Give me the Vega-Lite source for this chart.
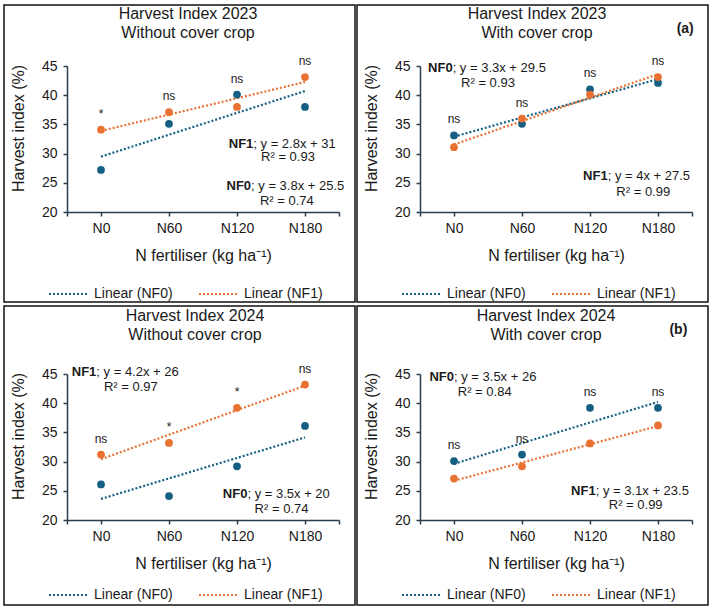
{
  "$schema": "https://vega.github.io/schema/vega-lite/v6.json",
  "padding": {"left": 3, "top": 4, "right": 0, "bottom": 0},
  "background": "white",
  "datasets": {
    "hi": [
      {"year": 2023, "cover": "without", "N": 0, "series": "NF0", "HI": 27.2, "sig": "*"},
      {"year": 2023, "cover": "without", "N": 0, "series": "NF1", "HI": 34.1, "sig": "*"},
      {"year": 2023, "cover": "without", "N": 60, "series": "NF0", "HI": 35.1, "sig": "ns"},
      {"year": 2023, "cover": "without", "N": 60, "series": "NF1", "HI": 37.1, "sig": "ns"},
      {"year": 2023, "cover": "without", "N": 120, "series": "NF0", "HI": 40.1, "sig": "ns"},
      {"year": 2023, "cover": "without", "N": 120, "series": "NF1", "HI": 38.0, "sig": "ns"},
      {"year": 2023, "cover": "without", "N": 180, "series": "NF0", "HI": 38.0, "sig": "ns"},
      {"year": 2023, "cover": "without", "N": 180, "series": "NF1", "HI": 43.1, "sig": "ns"},
      {"year": 2023, "cover": "with", "N": 0, "series": "NF0", "HI": 33.1, "sig": "ns"},
      {"year": 2023, "cover": "with", "N": 0, "series": "NF1", "HI": 31.1, "sig": "ns"},
      {"year": 2023, "cover": "with", "N": 60, "series": "NF0", "HI": 35.1, "sig": "ns"},
      {"year": 2023, "cover": "with", "N": 60, "series": "NF1", "HI": 36.0, "sig": "ns"},
      {"year": 2023, "cover": "with", "N": 120, "series": "NF0", "HI": 41.0, "sig": "ns"},
      {"year": 2023, "cover": "with", "N": 120, "series": "NF1", "HI": 40.1, "sig": "ns"},
      {"year": 2023, "cover": "with", "N": 180, "series": "NF0", "HI": 42.1, "sig": "ns"},
      {"year": 2023, "cover": "with", "N": 180, "series": "NF1", "HI": 43.1, "sig": "ns"},
      {"year": 2024, "cover": "without", "N": 0, "series": "NF0", "HI": 26.1, "sig": "ns"},
      {"year": 2024, "cover": "without", "N": 0, "series": "NF1", "HI": 31.2, "sig": "ns"},
      {"year": 2024, "cover": "without", "N": 60, "series": "NF0", "HI": 24.1, "sig": "*"},
      {"year": 2024, "cover": "without", "N": 60, "series": "NF1", "HI": 33.2, "sig": "*"},
      {"year": 2024, "cover": "without", "N": 120, "series": "NF0", "HI": 29.2, "sig": "*"},
      {"year": 2024, "cover": "without", "N": 120, "series": "NF1", "HI": 39.2, "sig": "*"},
      {"year": 2024, "cover": "without", "N": 180, "series": "NF0", "HI": 36.1, "sig": "ns"},
      {"year": 2024, "cover": "without", "N": 180, "series": "NF1", "HI": 43.2, "sig": "ns"},
      {"year": 2024, "cover": "with", "N": 0, "series": "NF0", "HI": 30.1, "sig": "ns"},
      {"year": 2024, "cover": "with", "N": 0, "series": "NF1", "HI": 27.1, "sig": "ns"},
      {"year": 2024, "cover": "with", "N": 60, "series": "NF0", "HI": 31.2, "sig": "ns"},
      {"year": 2024, "cover": "with", "N": 60, "series": "NF1", "HI": 29.2, "sig": "ns"},
      {"year": 2024, "cover": "with", "N": 120, "series": "NF0", "HI": 39.2, "sig": "ns"},
      {"year": 2024, "cover": "with", "N": 120, "series": "NF1", "HI": 33.1, "sig": "ns"},
      {"year": 2024, "cover": "with", "N": 180, "series": "NF0", "HI": 39.2, "sig": "ns"},
      {"year": 2024, "cover": "with", "N": 180, "series": "NF1", "HI": 36.2, "sig": "ns"}
    ]
  },
  "columns": 2,
  "align": "none",
  "spacing": {"row": 2, "column": 0},
  "resolve": {"legend": {"color": "independent"}},
  "concat": [
    {
      "width": 272,
      "height": 146,
      "title": {"text": ["Harvest Index 2023", "Without cover crop"], "dx": -15, "offset": -37},
      "data": {"name": "hi"},
      "transform": [{"filter": "datum.year == 2023 && datum.cover == 'without'"}],
      "layer": [
        {"data": {"values": [{}]},
          "mark": {"type": "rect", "fill": null, "stroke": "#111111", "strokeWidth": 1.5},
          "encoding": {"x": {"datum": -85.6}, "x2": {"datum": 224.1}, "y": {"datum": 55.45}, "y2": {"datum": 4.59}}},
        {
          "encoding": {
            "x": {"field": "N", "type": "quantitative", "scale": {"domain": [-30, 210], "nice": false, "zero": false},
              "axis": {"values": [-30, 0, 60, 120, 180, 210], "labelOverlap": false, "labelExpr": "datum.value < 0 || datum.value > 200 ? '' : 'N' + datum.value", "title": "N fertiliser (kg ha⁻¹)"}},
            "y": {"field": "HI", "type": "quantitative", "scale": {"domain": [20, 45], "nice": false, "zero": false},
              "axis": {"values": [20, 25, 30, 35, 40, 45], "labelOverlap": false, "tickCount": 6, "title": "Harvest index (%)"}}
          },
          "layer": [
            {"transform": [{"regression": "HI", "on": "N", "groupby": ["series"], "extent": [0, 180]}],
              "mark": {"type": "line", "strokeDash": [2, 2], "strokeWidth": 2.2},
              "encoding": {"color": {"field": "series", "type": "nominal", "scale": {"domain": ["NF0", "NF1"], "range": ["#156082", "#E97132"]},
                "legend": {"title": null, "labelExpr": "'Linear (' + datum.label + ')'", "orient": "none", "legendX": -19, "legendY": 207}}}},
            {"mark": {"type": "circle", "size": 60, "opacity": 1},
              "encoding": {"color": {"field": "series", "type": "nominal"}}},
            {"transform": [{"aggregate": [{"op": "max", "field": "HI", "as": "HI"}], "groupby": ["N", "sig"]}],
              "mark": {"type": "text", "baseline": "alphabetic", "dy": -12, "fontSize": 12, "color": "#1a1a1a"},
              "encoding": {"text": {"field": "sig"}}}
          ]
        },
        {"data": {"values": [{}]}, "mark": {"type": "text", "text": "NF1", "fontWeight": "bold", "align": "right"}, "encoding": {"x": {"datum": 134.4}, "y": {"datum": 31.6}}},
        {"data": {"values": [{}]}, "mark": {"type": "text", "text": "; y = 2.8x + 31", "align": "left"}, "encoding": {"x": {"datum": 134.4}, "y": {"datum": 31.6}}},
        {"data": {"values": [{}]}, "mark": {"type": "text", "text": "R² = 0.93"}, "encoding": {"x": {"datum": 165}, "y": {"datum": 29.5}}},
        {"data": {"values": [{}]}, "mark": {"type": "text", "text": "NF0", "fontWeight": "bold", "align": "right"}, "encoding": {"x": {"datum": 132.4}, "y": {"datum": 24.4}}},
        {"data": {"values": [{}]}, "mark": {"type": "text", "text": "; y = 3.8x + 25.5", "align": "left"}, "encoding": {"x": {"datum": 132.4}, "y": {"datum": 24.4}}},
        {"data": {"values": [{}]}, "mark": {"type": "text", "text": "R² = 0.74"}, "encoding": {"x": {"datum": 164}, "y": {"datum": 21.8}}}
      ]
    },
    {
      "width": 272,
      "height": 146,
      "title": {"text": ["Harvest Index 2023", "With cover crop"], "dx": -19, "offset": -37},
      "data": {"name": "hi"},
      "transform": [{"filter": "datum.year == 2023 && datum.cover == 'with'"}],
      "layer": [
        {"data": {"values": [{}]},
          "mark": {"type": "rect", "fill": null, "stroke": "#111111", "strokeWidth": 1.5},
          "encoding": {"x": {"datum": -85.6}, "x2": {"datum": 224.1}, "y": {"datum": 55.45}, "y2": {"datum": 4.59}}},
        {
          "encoding": {
            "x": {"field": "N", "type": "quantitative", "scale": {"domain": [-30, 210], "nice": false, "zero": false},
              "axis": {"values": [-30, 0, 60, 120, 180, 210], "labelOverlap": false, "labelExpr": "datum.value < 0 || datum.value > 200 ? '' : 'N' + datum.value", "title": "N fertiliser (kg ha⁻¹)"}},
            "y": {"field": "HI", "type": "quantitative", "scale": {"domain": [20, 45], "nice": false, "zero": false},
              "axis": {"values": [20, 25, 30, 35, 40, 45], "labelOverlap": false, "tickCount": 6, "title": "Harvest index (%)"}}
          },
          "layer": [
            {"transform": [{"regression": "HI", "on": "N", "groupby": ["series"], "extent": [0, 180]}],
              "mark": {"type": "line", "strokeDash": [2, 2], "strokeWidth": 2.2},
              "encoding": {"color": {"field": "series", "type": "nominal", "scale": {"domain": ["NF0", "NF1"], "range": ["#156082", "#E97132"]},
                "legend": {"title": null, "labelExpr": "'Linear (' + datum.label + ')'", "orient": "none", "legendX": -19, "legendY": 207}}}},
            {"mark": {"type": "circle", "size": 60, "opacity": 1},
              "encoding": {"color": {"field": "series", "type": "nominal"}}},
            {"transform": [{"aggregate": [{"op": "max", "field": "HI", "as": "HI"}], "groupby": ["N", "sig"]}],
              "mark": {"type": "text", "baseline": "alphabetic", "dy": -12, "fontSize": 12, "color": "#1a1a1a"},
              "encoding": {"text": {"field": "sig"}}}
          ]
        },
        {"data": {"values": [{}]}, "mark": {"type": "text", "text": "NF0", "fontWeight": "bold", "align": "right"}, "encoding": {"x": {"datum": -1.2}, "y": {"datum": 44.7}}},
        {"data": {"values": [{}]}, "mark": {"type": "text", "text": "; y = 3.3x + 29.5", "align": "left"}, "encoding": {"x": {"datum": -1.2}, "y": {"datum": 44.7}}},
        {"data": {"values": [{}]}, "mark": {"type": "text", "text": "R² = 0.93"}, "encoding": {"x": {"datum": 30}, "y": {"datum": 42.1}}},
        {"data": {"values": [{}]}, "mark": {"type": "text", "text": "NF1", "fontWeight": "bold", "align": "right"}, "encoding": {"x": {"datum": 135.6}, "y": {"datum": 26.2}}},
        {"data": {"values": [{}]}, "mark": {"type": "text", "text": "; y = 4x + 27.5", "align": "left"}, "encoding": {"x": {"datum": 135.6}, "y": {"datum": 26.2}}},
        {"data": {"values": [{}]}, "mark": {"type": "text", "text": "R² = 0.99"}, "encoding": {"x": {"datum": 167}, "y": {"datum": 23.5}}},
        {"data": {"values": [{}]}, "mark": {"type": "text", "text": "(a)", "fontWeight": "bold", "fontSize": 14}, "encoding": {"x": {"datum": 204}, "y": {"datum": 51.4}}}
      ]
    },
    {
      "width": 272,
      "height": 146,
      "title": {"text": ["Harvest Index 2024", "Without cover crop"], "dx": -8, "offset": -38},
      "data": {"name": "hi"},
      "transform": [{"filter": "datum.year == 2024 && datum.cover == 'without'"}],
      "layer": [
        {"data": {"values": [{}]},
          "mark": {"type": "rect", "fill": null, "stroke": "#111111", "strokeWidth": 1.5},
          "encoding": {"x": {"datum": -85.6}, "x2": {"datum": 224.1}, "y": {"datum": 56.64}, "y2": {"datum": 5.45}}},
        {
          "encoding": {
            "x": {"field": "N", "type": "quantitative", "scale": {"domain": [-30, 210], "nice": false, "zero": false},
              "axis": {"values": [-30, 0, 60, 120, 180, 210], "labelOverlap": false, "labelExpr": "datum.value < 0 || datum.value > 200 ? '' : 'N' + datum.value", "title": "N fertiliser (kg ha⁻¹)"}},
            "y": {"field": "HI", "type": "quantitative", "scale": {"domain": [20, 45], "nice": false, "zero": false},
              "axis": {"values": [20, 25, 30, 35, 40, 45], "labelOverlap": false, "tickCount": 6, "title": "Harvest index (%)"}}
          },
          "layer": [
            {"transform": [{"regression": "HI", "on": "N", "groupby": ["series"], "extent": [0, 180]}],
              "mark": {"type": "line", "strokeDash": [2, 2], "strokeWidth": 2.2},
              "encoding": {"color": {"field": "series", "type": "nominal", "scale": {"domain": ["NF0", "NF1"], "range": ["#156082", "#E97132"]},
                "legend": {"title": null, "labelExpr": "'Linear (' + datum.label + ')'", "orient": "none", "legendX": -19, "legendY": 200}}}},
            {"mark": {"type": "circle", "size": 60, "opacity": 1},
              "encoding": {"color": {"field": "series", "type": "nominal"}}},
            {"transform": [{"aggregate": [{"op": "max", "field": "HI", "as": "HI"}], "groupby": ["N", "sig"]}],
              "mark": {"type": "text", "baseline": "alphabetic", "dy": -12, "fontSize": 12, "color": "#1a1a1a"},
              "encoding": {"text": {"field": "sig"}}}
          ]
        },
        {"data": {"values": [{}]}, "mark": {"type": "text", "text": "NF1", "fontWeight": "bold", "align": "right"}, "encoding": {"x": {"datum": -4.1}, "y": {"datum": 45.3}}},
        {"data": {"values": [{}]}, "mark": {"type": "text", "text": "; y = 4.2x + 26", "align": "left"}, "encoding": {"x": {"datum": -4.1}, "y": {"datum": 45.3}}},
        {"data": {"values": [{}]}, "mark": {"type": "text", "text": "R² = 0.97"}, "encoding": {"x": {"datum": 26.3}, "y": {"datum": 42.8}}},
        {"data": {"values": [{}]}, "mark": {"type": "text", "text": "NF0", "fontWeight": "bold", "align": "right"}, "encoding": {"x": {"datum": 129.2}, "y": {"datum": 24.4}}},
        {"data": {"values": [{}]}, "mark": {"type": "text", "text": "; y = 3.5x + 20", "align": "left"}, "encoding": {"x": {"datum": 129.2}, "y": {"datum": 24.4}}},
        {"data": {"values": [{}]}, "mark": {"type": "text", "text": "R² = 0.74"}, "encoding": {"x": {"datum": 159.3}, "y": {"datum": 21.9}}}
      ]
    },
    {
      "width": 272,
      "height": 146,
      "title": {"text": ["Harvest Index 2024", "With cover crop"], "dx": -10, "offset": -38},
      "data": {"name": "hi"},
      "transform": [{"filter": "datum.year == 2024 && datum.cover == 'with'"}],
      "layer": [
        {"data": {"values": [{}]},
          "mark": {"type": "rect", "fill": null, "stroke": "#111111", "strokeWidth": 1.5},
          "encoding": {"x": {"datum": -85.6}, "x2": {"datum": 224.1}, "y": {"datum": 56.64}, "y2": {"datum": 5.45}}},
        {
          "encoding": {
            "x": {"field": "N", "type": "quantitative", "scale": {"domain": [-30, 210], "nice": false, "zero": false},
              "axis": {"values": [-30, 0, 60, 120, 180, 210], "labelOverlap": false, "labelExpr": "datum.value < 0 || datum.value > 200 ? '' : 'N' + datum.value", "title": "N fertiliser (kg ha⁻¹)"}},
            "y": {"field": "HI", "type": "quantitative", "scale": {"domain": [20, 45], "nice": false, "zero": false},
              "axis": {"values": [20, 25, 30, 35, 40, 45], "labelOverlap": false, "tickCount": 6, "title": "Harvest index (%)"}}
          },
          "layer": [
            {"transform": [{"regression": "HI", "on": "N", "groupby": ["series"], "extent": [0, 180]}],
              "mark": {"type": "line", "strokeDash": [2, 2], "strokeWidth": 2.2},
              "encoding": {"color": {"field": "series", "type": "nominal", "scale": {"domain": ["NF0", "NF1"], "range": ["#156082", "#E97132"]},
                "legend": {"title": null, "labelExpr": "'Linear (' + datum.label + ')'", "orient": "none", "legendX": -19, "legendY": 200}}}},
            {"mark": {"type": "circle", "size": 60, "opacity": 1},
              "encoding": {"color": {"field": "series", "type": "nominal"}}},
            {"transform": [{"aggregate": [{"op": "max", "field": "HI", "as": "HI"}], "groupby": ["N", "sig"]}],
              "mark": {"type": "text", "baseline": "alphabetic", "dy": -12, "fontSize": 12, "color": "#1a1a1a"},
              "encoding": {"text": {"field": "sig"}}}
          ]
        },
        {"data": {"values": [{}]}, "mark": {"type": "text", "text": "NF0", "fontWeight": "bold", "align": "right"}, "encoding": {"x": {"datum": 0}, "y": {"datum": 44.5}}},
        {"data": {"values": [{}]}, "mark": {"type": "text", "text": "; y = 3.5x + 26", "align": "left"}, "encoding": {"x": {"datum": 0}, "y": {"datum": 44.5}}},
        {"data": {"values": [{}]}, "mark": {"type": "text", "text": "R² = 0.84"}, "encoding": {"x": {"datum": 27.1}, "y": {"datum": 41.9}}},
        {"data": {"values": [{}]}, "mark": {"type": "text", "text": "NF1", "fontWeight": "bold", "align": "right"}, "encoding": {"x": {"datum": 125}, "y": {"datum": 25}}},
        {"data": {"values": [{}]}, "mark": {"type": "text", "text": "; y = 3.1x + 23.5", "align": "left"}, "encoding": {"x": {"datum": 125}, "y": {"datum": 25}}},
        {"data": {"values": [{}]}, "mark": {"type": "text", "text": "R² = 0.99"}, "encoding": {"x": {"datum": 160.3}, "y": {"datum": 22.5}}},
        {"data": {"values": [{}]}, "mark": {"type": "text", "text": "(b)", "fontWeight": "bold", "fontSize": 14}, "encoding": {"x": {"datum": 198}, "y": {"datum": 52.5}}}
      ]
    }
  ],
  "config": {
    "font": "Liberation Sans",
    "view": {"stroke": null},
    "axis": {
      "grid": false,
      "domainColor": "#2B3E50",
      "domainWidth": 1.5,
      "tickColor": "#2B3E50",
      "tickWidth": 1.5,
      "tickSize": 4,
      "labelFont": "Liberation Sans",
      "labelFontSize": 14,
      "labelColor": "#1a1a1a",
      "labelFlush": false,
      "labelOverlap": false,
      "titleFont": "Liberation Sans",
      "titleFontSize": 16,
      "titleFontWeight": "normal",
      "titleColor": "#1a1a1a"
    },
    "axisY": {"labelPadding": 6, "titlePadding": 15, "titleY": 62},
    "axisX": {"labelPadding": 5, "titlePadding": 12},
    "text": {"font": "Liberation Sans", "fontSize": 13, "color": "#1a1a1a", "baseline": "middle"},
    "title": {"font": "Liberation Sans", "fontSize": 16, "fontWeight": "normal", "color": "#1a1a1a", "lineHeight": 19, "anchor": "middle", "frame": "group"},
    "legend": {
      "direction": "horizontal",
      "symbolType": "stroke",
      "symbolSize": 1600,
      "symbolStrokeWidth": 2,
      "symbolDash": [2, 2],
      "labelFont": "Liberation Sans",
      "labelFontSize": 14,
      "labelColor": "#1a1a1a",
      "labelOffset": 4,
      "columnPadding": 22
    }
  }
}
